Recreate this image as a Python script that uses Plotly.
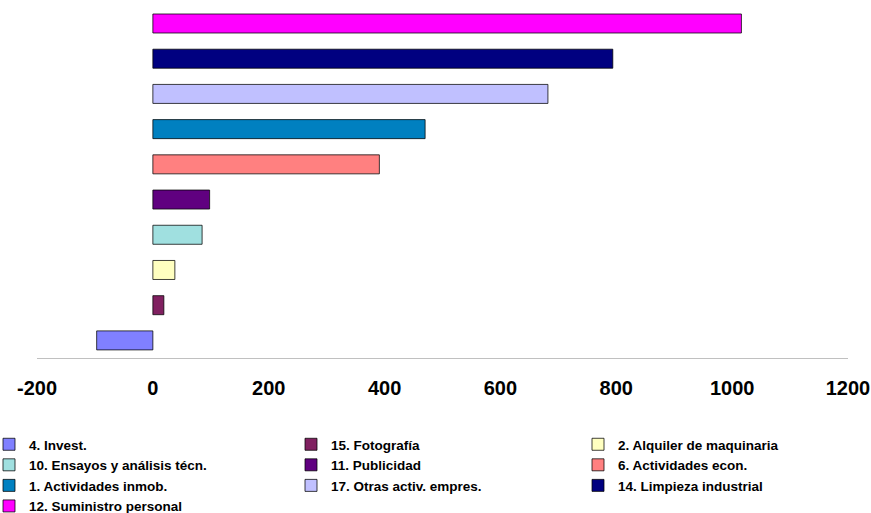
import plotly.graph_objects as go

categories = [
    "4. Invest.",
    "15. Fotografía",
    "2. Alquiler de maquinaria",
    "10. Ensayos y análisis técn.",
    "11. Publicidad",
    "6. Actividades econ.",
    "1. Actividades inmob.",
    "17. Otras activ. empres.",
    "14. Limpieza industrial",
    "12. Suministro personal",
]
values = [-97, 19, 38, 85, 98, 391, 470, 682, 794, 1016]
colors = ["#8080FF", "#802060", "#FFFFC0", "#A0E0E0", "#600080",
          "#FF8080", "#0080C0", "#C0C0FF", "#000080", "#FF00FF"]
x_ticks = [-200, 0, 200, 400, 600, 800, 1000, 1200]

W, H = 871, 513
ML, MR, MT, MB = 37, 23, 8, 155
PW, PH = W - ML - MR, H - MT - MB
PLOT_BOTTOM = H - MB

legend_names = ["legend", "legend2", "legend3"]
fig = go.Figure()
for i, (cat, val, col) in enumerate(zip(categories, values, colors)):
    fig.add_trace(go.Bar(
        y=[cat], x=[val], name=cat, orientation="h",
        legend=legend_names[i % 3],
        marker=dict(color=col, line=dict(color="rgba(0,0,0,0.75)", width=1)),
    ))

leg_top = -(429 - PLOT_BOTTOM) / PH
leg_common = dict(
    orientation="v", yanchor="top", y=leg_top, xanchor="left",
    font=dict(size=13.5, weight="bold"), itemwidth=30,
    bgcolor="rgba(0,0,0,0)", traceorder="normal",
)


def lx(px):
    return (px - ML) / PW


fig.update_layout(
    width=W, height=H,
    margin=dict(l=ML, r=MR, t=MT, b=MB, autoexpand=False),
    plot_bgcolor="white", paper_bgcolor="white",
    bargap=0.46,
    showlegend=True,
    font=dict(family="Liberation Sans, Arial, sans-serif", color="black"),
    legend=dict(x=lx(-11), **leg_common),
    legend2=dict(x=lx(291), **leg_common),
    legend3=dict(x=lx(578), **leg_common),
    xaxis=dict(
        range=[-200, 1200], tickvals=x_ticks, ticktext=[str(t) for t in x_ticks],
        showgrid=False, zeroline=False, showline=True, linecolor="#C0C0C0",
        linewidth=1, ticks="", ticklabelstandoff=12, automargin=False,
        tickfont=dict(size=20, weight="bold"),
    ),
    yaxis=dict(
        categoryorder="array", categoryarray=categories,
        range=[-0.5, 9.44], automargin=False,
        showticklabels=False, showgrid=False, zeroline=False, showline=False,
        ticks="",
    ),
)

fig.write_html(
    "out.html",
    config={"displayModeBar": False},
    post_script="document.body.style.margin='0';document.body.style.overflow='hidden';",
)
